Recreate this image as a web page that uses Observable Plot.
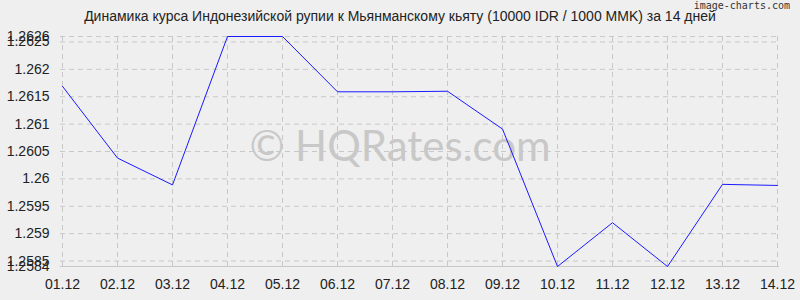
<!DOCTYPE html>
<html>
<head>
<meta charset="utf-8">
<script src="https://cdn.jsdelivr.net/npm/d3@7"></script>
<script src="https://cdn.jsdelivr.net/npm/@observablehq/plot@0.6"></script>
<style>
  html, body { margin: 0; padding: 0; background: #efefef; }
  #wrap { position: relative; width: 800px; height: 300px; background: #efefef; overflow: hidden; }
  #title { position: absolute; left: 0; width: 800px; top: 8px; text-align: center;
    font-family: "Liberation Sans", Arial, sans-serif; font-size: 14px; color: #222; }
  #brand { position: absolute; right: 10px; top: 0px; font-family: "DejaVu Sans Mono", monospace;
    font-size: 10px; color: #333; }
  #chart { position: absolute; left: 0; top: 0; }
</style>
</head>
<body>
<div id="wrap">
  <div id="chart"></div>
  <div id="title">Динамика курса Индонезийской рупии к Мьянманскому кьяту (10000 IDR / 1000 MMK) за 14 дней</div>
  <div id="brand">image-charts.com</div>
</div>
<script>
const dates = ["01.12","02.12","03.12","04.12","05.12","06.12","07.12","08.12","09.12","10.12","11.12","12.12","13.12","14.12"];
const values = [1.26169, 1.26038, 1.25989, 1.2626, 1.2626, 1.26159, 1.26159, 1.2616, 1.26091, 1.2584, 1.25920, 1.2584, 1.25990, 1.25988];
const yTicks = [1.2584, 1.2585, 1.259, 1.2595, 1.26, 1.2605, 1.261, 1.2615, 1.262, 1.2625, 1.2626];
const watermark = "© HQRates.com";

const data = dates.map((d, i) => ({date: d, value: values[i]}));

const chart = Plot.plot({
  width: 800,
  height: 300,
  marginLeft: 60,
  marginRight: 21,
  marginTop: 36,
  marginBottom: 34,
  style: {background: "#efefef", fontFamily: "'Liberation Sans', Arial, sans-serif", fontSize: "14px", color: "#222"},
  x: {type: "point", domain: dates, padding: 0},
  y: {domain: [1.2584, 1.2626]},
  marks: [
    Plot.gridX(dates, {stroke: "#c8c8c8", strokeOpacity: 1, strokeDasharray: "5,4"}),
    Plot.gridY(yTicks, {stroke: "#c8c8c8", strokeOpacity: 1, strokeDasharray: "5,4"}),
    Plot.ruleY([1.2584], {stroke: "#c8c8c8"}),
    Plot.text([watermark], {frameAnchor: "middle", dx: -20, dy: -4, fontSize: 42, fill: "#c8c8c8", fontFamily: "Lato, 'Open Sans', sans-serif"}),
    Plot.axisX({ticks: dates, tickSize: 0, tickPadding: 13, label: null, fontSize: 14}),
    Plot.axisY({ticks: yTicks, tickSize: 0, tickPadding: 11, label: null, tickFormat: d => String(+d.toFixed(4)), fontSize: 14}),
    Plot.line(data, {x: "date", y: "value", stroke: "#1a1aff", strokeWidth: 1})
  ]
});
document.getElementById("chart").appendChild(chart);
</script>
</body>
</html>
